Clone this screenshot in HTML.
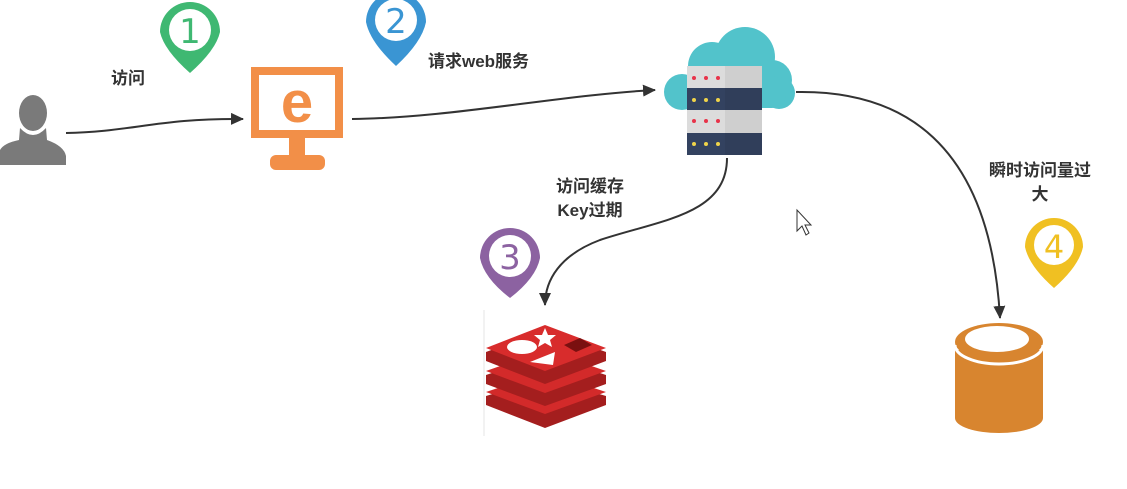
<!DOCTYPE html>
<html><head><meta charset="utf-8"><style>
html,body{margin:0;padding:0;background:#fff;}
svg{display:block}
text{font-family:"Liberation Sans","Noto Sans CJK SC",sans-serif;font-weight:bold;fill:#333;font-size:17px}
.n{font-family:"DejaVu Sans","Liberation Sans",sans-serif;font-weight:normal;font-size:34px}
</style></head><body>
<svg width="1127" height="489" viewBox="0 0 1127 489" xmlns="http://www.w3.org/2000/svg">
<defs>
<marker id="ar" markerWidth="13" markerHeight="12" refX="12" refY="6" orient="auto" markerUnits="userSpaceOnUse">
<path d="M0,0 L13,6 L0,12 Z" fill="#333"/></marker>
</defs>
<!-- person -->
<g fill="#7a7a7a">
<ellipse cx="33" cy="113" rx="14" ry="18"/>
<path d="M20,128 Q33,142 46,128 L47,140 Q64,146 66,156 L66,165 L0,165 L0,150 Q4,143 19,140 Z"/>
</g>
<!-- arrows -->
<path d="M66,133 C130,132 160,118 243,119" fill="none" stroke="#333" stroke-width="2" marker-end="url(#ar)"/>
<path d="M352,119 C450,118 560,95 655,90" fill="none" stroke="#333" stroke-width="2" marker-end="url(#ar)"/>
<path d="M727,158 C727,215 660,220 600,240 C560,255 545,280 545,305" fill="none" stroke="#333" stroke-width="2" marker-end="url(#ar)"/>
<path d="M796,92 C900,90 990,140 1000,318" fill="none" stroke="#333" stroke-width="2" marker-end="url(#ar)"/>
<!-- monitor -->
<rect x="255" y="71" width="84" height="63" fill="#fff" stroke="#f28f48" stroke-width="8"/>
<text x="297" y="122" text-anchor="middle" style="font-size:58px;fill:#f28f48">e</text>
<rect x="289" y="138" width="16" height="18" fill="#f28f48"/>
<rect x="270" y="155" width="55" height="15" rx="6" fill="#f28f48"/>
<!-- pins -->
<g>
<path d="M160,32 A30,30 0 1 1 220,32 Q216,50 190,73 Q164,50 160,32 Z" fill="#3fb872"/>
<circle cx="190" cy="30" r="21" fill="#fff"/>
<text class="n" x="190" y="43" text-anchor="middle" style="fill:#3fb872">1</text>
</g>
<g>
<path d="M366,22 A30,30 0 1 1 426,22 Q422,42 396,66 Q370,42 366,22 Z" fill="#3a95d3"/>
<circle cx="396" cy="20" r="21" fill="#fff"/>
<text class="n" x="396" y="33" text-anchor="middle" style="fill:#3a95d3">2</text>
</g>
<g>
<path d="M480,258 A30,30 0 1 1 540,258 Q536,278 510,298 Q484,278 480,258 Z" fill="#8c62a1"/>
<circle cx="510" cy="256" r="21" fill="#fff"/>
<text class="n" x="510" y="269" text-anchor="middle" style="fill:#8c62a1">3</text>
</g>
<g>
<path d="M1025,247 A29,29 0 1 1 1083,247 Q1079,266 1054,288 Q1029,266 1025,247 Z" fill="#f0c022"/>
<circle cx="1054" cy="245" r="20" fill="#fff"/>
<text class="n" x="1054" y="258" text-anchor="middle" style="fill:#f0c022;font-size:32px">4</text>
</g>
<!-- cloud server -->
<g fill="#52c3cb">
<circle cx="712" cy="66" r="24"/>
<circle cx="745" cy="57" r="30"/>
<circle cx="772" cy="80" r="20"/>
<circle cx="682" cy="92" r="18"/>
<circle cx="779" cy="93" r="16"/>
<rect x="668" y="76" width="118" height="32" rx="14"/>
</g>
<rect x="687" y="66" width="75" height="22" fill="#dcdcdc"/>
<rect x="687" y="88" width="75" height="22" fill="#334260"/>
<rect x="687" y="110" width="75" height="23" fill="#dcdcdc"/>
<rect x="687" y="133" width="75" height="22" fill="#334260"/>
<rect x="725" y="66" width="37" height="89" fill="#000" opacity="0.06"/>
<g fill="#e8344a"><circle cx="694" cy="78" r="2"/><circle cx="706" cy="78" r="2"/><circle cx="718" cy="78" r="2"/>
<circle cx="694" cy="121" r="2"/><circle cx="706" cy="121" r="2"/><circle cx="718" cy="121" r="2"/></g>
<g fill="#f0d44a"><circle cx="694" cy="100" r="2"/><circle cx="706" cy="100" r="2"/><circle cx="718" cy="100" r="2"/>
<circle cx="694" cy="144" r="2"/><circle cx="706" cy="144" r="2"/><circle cx="718" cy="144" r="2"/></g>
<!-- redis -->
<line x1="484" y1="310" x2="484" y2="436" stroke="#e6e6e6" stroke-width="1"/>
<g>
<path d="M486,396 L545,378 L606,396 L606,405 L545,428 L486,405 Z" fill="#a41e1e"/>
<path d="M486,392 L545,372 L606,392 L545,414 Z" fill="#d32a2a"/>
<path d="M486,375 L545,355 L606,375 L606,384 L545,406 L486,384 Z" fill="#a41e1e"/>
<path d="M486,371 L545,350 L606,371 L545,393 Z" fill="#d32a2a"/>
<path d="M486,352 L545,330 L606,352 L606,361 L545,384 L486,361 Z" fill="#a41e1e"/>
<path d="M486,348 L545,325 L606,348 L545,371 Z" fill="#d82c2c"/>
<ellipse cx="522" cy="347" rx="15" ry="7" fill="#fff"/>
<path d="M545,328 L548,335 L556,335 L550,340 L552,347 L545,343 L538,347 L540,340 L534,335 L542,335 Z" fill="#fff"/>
<path d="M530,362 L555,352 L553,365 Z" fill="#fff"/>
<path d="M564,345 L580,338 L592,345 L576,352 Z" fill="#7a1010"/>
</g>
<!-- DB -->
<path d="M955,350 L955,418 A44,15 0 0 0 1043,418 L1043,350 Z" fill="#d8852f"/>
<ellipse cx="999" cy="342" rx="44" ry="19" fill="#d8852f"/>
<path d="M955,345 A44,19 0 0 0 1043,345" fill="none" stroke="#fff" stroke-width="3"/>
<ellipse cx="997" cy="339" rx="32" ry="13" fill="#fff"/>
<!-- cursor -->
<path d="M797,210 L797,231 L802,226 L806,235 L809,233 L805,225 L811,225 Z" fill="#fff" stroke="#333" stroke-width="1"/>
<!-- labels -->
<text x="111" y="84">访问</text>
<text x="428" y="67">请求web服务</text>
<text x="590" y="192" text-anchor="middle">访问缓存</text>
<text x="590" y="216" text-anchor="middle">Key过期</text>
<text x="1040" y="176" text-anchor="middle">瞬时访问量过</text>
<text x="1040" y="200" text-anchor="middle">大</text>
</svg>
</body></html>
